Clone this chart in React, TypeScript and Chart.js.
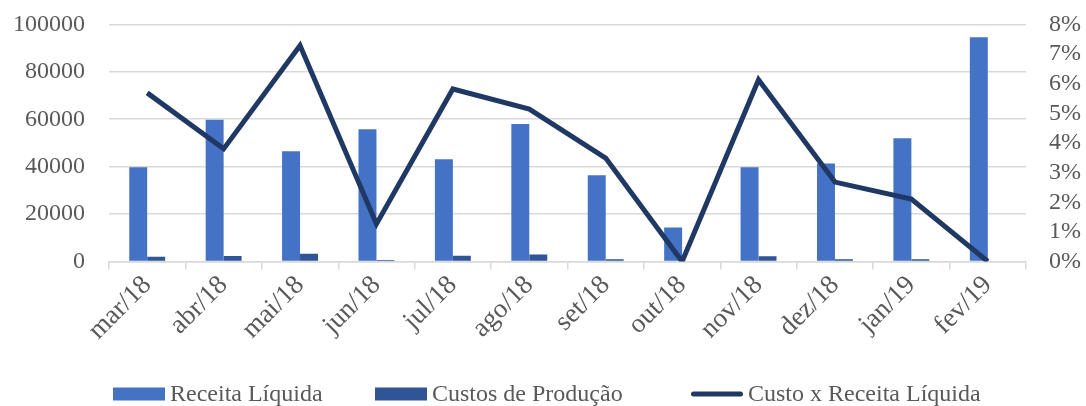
import React, { useEffect, useRef } from "react";
import { Chart, registerables } from "chart.js";

Chart.register(...registerables);

const categories = ["mar/18", "abr/18", "mai/18", "jun/18", "jul/18", "ago/18", "set/18", "out/18", "nov/18", "dez/18", "jan/19", "fev/19"];
const receitaLiquida = [39700, 59800, 46500, 55800, 43100, 58000, 36400, 14300, 39700, 41300, 52000, 94600];
const custosProducao = [2000, 2300, 3300, 600, 2400, 2900, 1000, 0, 2200, 900, 900, 0];
const custoXReceita = [0.0569, 0.038, 0.0729, 0.0127, 0.0582, 0.0514, 0.0349, 0, 0.0613, 0.0268, 0.0211, 0];
const leftTicks = [0, 20000, 40000, 60000, 80000, 100000];
const rightTicks = [0, 0.01, 0.02, 0.03, 0.04, 0.05, 0.06, 0.07, 0.08];
const legendOrder = ["Receita Líquida", "Custos de Produção", "Custo x Receita Líquida"];

const FONT = "'Liberation Serif', 'Times New Roman', serif";
const TEXT = "#595959";
const GRID = "#d9d9d9";
const SHIFT = 14;
const W = 1086;
const H = 406;

const legendPlugin = {
  id: "excelLegend",
  afterDraw(chart: any) {
    const ctx = chart.ctx as CanvasRenderingContext2D;
    const starts = [113, 375, 691];
    const boxW = 52;
    const boxH = 13;
    const cy = 394 + SHIFT;
    ctx.save();
    ctx.font = `24px ${FONT}`;
    ctx.textBaseline = "alphabetic";
    ctx.textAlign = "left";
    legendOrder.forEach((name, i) => {
      const ds = chart.data.datasets.find((d: any) => d.label === name);
      if (!ds) return;
      const x = starts[i];
      if (ds.type === "line") {
        ctx.strokeStyle = ds.borderColor;
        ctx.lineWidth = 5;
        ctx.lineCap = "round";
        ctx.beginPath();
        ctx.moveTo(x + 2.5, cy);
        ctx.lineTo(x + boxW - 2.5, cy);
        ctx.stroke();
      } else {
        ctx.fillStyle = ds.backgroundColor;
        ctx.fillRect(x, cy - boxH / 2, boxW, boxH);
      }
      ctx.fillStyle = TEXT;
      ctx.fillText(name, x + boxW + 5, 400.5 + SHIFT);
    });
    ctx.restore();
  },
};

export default function App() {
  const ref = useRef<HTMLCanvasElement | null>(null);
  useEffect(() => {
    document.body.style.margin = "0";
    const canvas = ref.current;
    if (!canvas) return;
    const options: any = {
      responsive: false,
      animation: false,
      datasets: { bar: { categoryPercentage: 0.47, barPercentage: 1 } },
      layout: { padding: { top: 0, left: 0, right: 0, bottom: 0 } },
      plugins: {
        tooltip: { enabled: false },
        legend: { display: false },
      },
      scales: {
        x: {
          grid: { display: true, drawOnChartArea: false, drawTicks: true, tickLength: 8, color: GRID, lineWidth: 1.5, offset: true },
          border: { display: true, color: GRID, width: 1.5 },
          ticks: { font: { family: FONT, size: 27 }, color: TEXT, maxRotation: 45, minRotation: 45, padding: 0, autoSkip: false },
          afterFit: (s: any) => { s.height = 144.5; },
        },
        y: {
          position: "left",
          min: 0,
          max: 100000,
          afterBuildTicks: (s: any) => { s.ticks = leftTicks.map((v) => ({ value: v })); },
          grid: { color: GRID, lineWidth: 1.5, drawTicks: false },
          border: { display: false },
          ticks: {
            font: { family: FONT, size: 24 },
            color: TEXT,
            padding: 24,
            autoSkip: false,
            callback: (v: any) => String(v),
          },
          afterFit: (s: any) => { s.width = 109; },
        },
        y1: {
          position: "right",
          min: 0,
          max: 0.08,
          afterBuildTicks: (s: any) => { s.ticks = rightTicks.map((v) => ({ value: v })); },
          grid: { display: false, drawTicks: false },
          border: { display: false },
          ticks: {
            font: { family: FONT, size: 24 },
            color: TEXT,
            padding: 23,
            autoSkip: false,
            callback: (v: any) => Math.round(Number(v) * 100) + "%",
          },
          afterFit: (s: any) => { s.width = 60; },
        },
      },
    };
    const chart = new Chart(canvas, {
      type: "bar",
      data: {
        labels: categories,
        datasets: [
          {
            type: "line",
            label: "Custo x Receita Líquida",
            data: custoXReceita,
            yAxisID: "y1",
            borderColor: "#1f3864",
            backgroundColor: "#1f3864",
            borderWidth: 5,
            pointRadius: 0,
            tension: 0,
            order: 0,
          } as any,
          {
            label: "Receita Líquida",
            data: receitaLiquida,
            backgroundColor: "#4472c4",
            yAxisID: "y",
            order: 1,
          },
          {
            label: "Custos de Produção",
            data: custosProducao,
            backgroundColor: "#2f5597",
            yAxisID: "y",
            order: 2,
          },
        ],
      },
      plugins: [legendPlugin],
      options,
    });
    return () => chart.destroy();
  }, []);
  return (
    <div style={{ width: W, height: H, overflow: "hidden" }}>
      <canvas ref={ref} width={W} height={H + SHIFT} style={{ display: "block", marginTop: -SHIFT }} />
    </div>
  );
}
